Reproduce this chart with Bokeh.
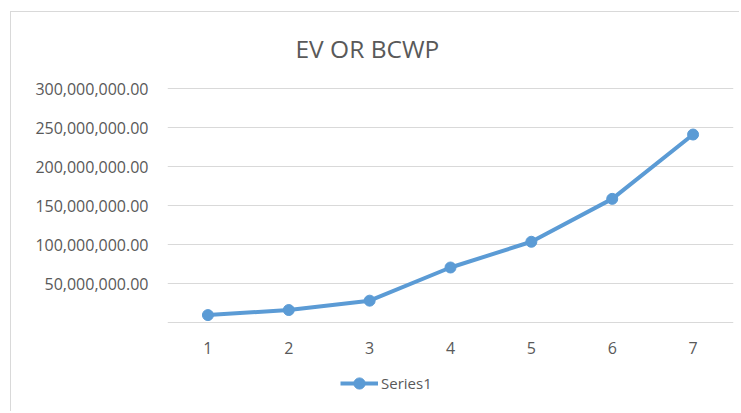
from bokeh.plotting import figure
from bokeh.models import (FactorRange, Range1d, FixedTicker, NumeralTickFormatter,
                          Legend, LegendItem, Label)
from bokeh.embed import file_html
from bokeh.resources import INLINE

periods = ["1", "2", "3", "4", "5", "6", "7"]
ev_values = [9500000, 16000000, 28000000, 70500000, 103500000, 158500000, 241000000]
y_ticks = [50000000, 100000000, 150000000, 200000000, 250000000, 300000000]
chart_title = "EV OR BCWP"

GREY_TXT = "#595959"
GRID = "#d9d9d9"
BLUE = "#5B9BD5"
FONT = "Open Sans"

# frame covers the whole canvas height: 76 px above 300M (title area),
# 234 px for 0..300M, 90 px below the axis (labels & legend)
Y_MAX = 300000000
Y_TOP = Y_MAX * (1 + 76 / 234)
Y_BOTTOM = -Y_MAX * 90 / 234

p = figure(width=729, height=400, x_range=FactorRange(*periods),
           y_range=Range1d(Y_BOTTOM, Y_TOP), output_backend="svg",
           toolbar_location=None, title=None,
           min_border_left=156, min_border_right=7, min_border_top=0,
           min_border_bottom=0,
           styles={"margin-left": "10px", "margin-top": "11px",
                   "border-left": "1px solid #d9d9d9", "border-top": "1px solid #d9d9d9"})
p.outline_line_color = None
p.background_fill_color = "white"
p.border_fill_color = "white"

title_label = Label(text=chart_title, x=128, y=364, x_units="screen", y_units="screen",
                    text_font=FONT, text_font_size="24.5px", text_color=GREY_TXT,
                    text_align="left", text_baseline="alphabetic")
p.add_layout(title_label, "center")

ln = p.line(x=periods, y=ev_values, line_color=BLUE, line_width=4)
sc = p.scatter(x=periods, y=ev_values, size=11, fill_color=BLUE, line_color=BLUE)

p.yaxis.ticker = FixedTicker(ticks=y_ticks)
p.yaxis.formatter = NumeralTickFormatter(format="0,0.00")
p.yaxis.axis_line_color = None
p.yaxis.major_tick_line_color = None
p.yaxis.minor_tick_line_color = None
p.yaxis.major_tick_out = 0
p.yaxis.major_label_standoff = 19
p.yaxis.major_label_text_font = FONT
p.yaxis.major_label_text_font_size = "16px"
p.yaxis.major_label_text_color = GREY_TXT

p.xaxis.fixed_location = 0
p.xaxis.axis_line_color = GRID
p.xaxis.axis_line_width = 1
p.xaxis.major_tick_line_color = None
p.xaxis.minor_tick_line_color = None
p.xaxis.major_tick_out = 0
p.xaxis.major_label_standoff = 19
p.xaxis.major_label_text_font = FONT
p.xaxis.major_label_text_font_size = "16px"
p.xaxis.major_label_text_color = GREY_TXT

p.xgrid.grid_line_color = None
p.ygrid.grid_line_color = GRID
p.ygrid.grid_line_width = 1

legend = Legend(items=[LegendItem(label="Series1", renderers=[ln, sc])],
                location=(173, 15), orientation="horizontal",
                glyph_width=38, glyph_height=28, label_standoff=3,
                padding=0, margin=0,
                spacing=0, border_line_color=None, background_fill_alpha=0,
                label_text_font=FONT, label_text_font_size="15px",
                label_text_color=GREY_TXT)
p.add_layout(legend, "center")

open("out.html", "w").write(file_html(p, INLINE))
